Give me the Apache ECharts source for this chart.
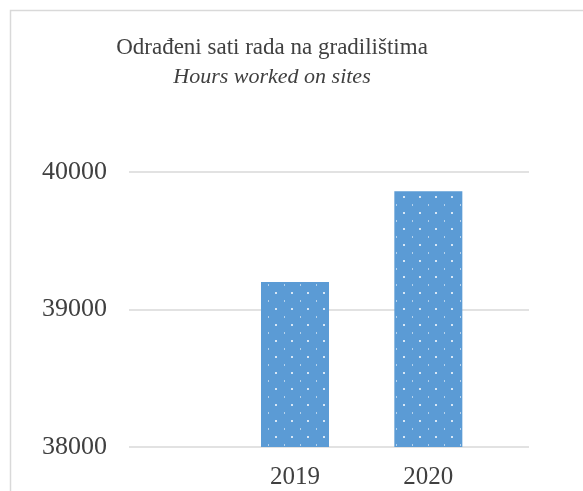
<!DOCTYPE html>
<html>
<head>
<meta charset="utf-8">
<script src="https://cdn.jsdelivr.net/npm/echarts@6/dist/echarts.min.js"></script>
<style>
html,body{margin:0;padding:0;background:#fff;}
#chart{width:583px;height:491px;}
</style>
</head>
<body>
<div id="chart"></div>
<script>
// Data
var categories = ['', '2019', '2020'];
var hoursWorked = [null, 39200, 39860];
var spacerSeries = [null, null, null];
var yTicks = [38000, 39000, 40000];
var titleMain = 'Odrađeni sati rada na gradilištima';
var titleSub = 'Hours worked on sites';

// dotted pattern fill
var pc = document.createElement('canvas');
pc.width = 16; pc.height = 16;
var ctx = pc.getContext('2d');
ctx.fillStyle = '#5B9BD5';
ctx.fillRect(0, 0, 16, 16);
ctx.fillStyle = 'rgba(255,255,255,0.75)';
ctx.fillRect(3, 4, 2, 2);
ctx.fillStyle = 'rgba(255,255,255,0.55)';
ctx.fillRect(12, 12, 1, 2);

var chart = echarts.init(document.getElementById('chart'), null, {renderer: 'canvas'});
var font = '"Liberation Serif", "DejaVu Serif", serif';
chart.setOption({
  animation: false,
  backgroundColor: '#ffffff',
  title: {
    text: titleMain,
    subtext: titleSub,
    left: 272,
    top: 36,
    textAlign: 'center',
    itemGap: 7,
    padding: 0,
    textStyle: {fontFamily: font, fontSize: 23, fontWeight: 'normal', color: '#404040'},
    subtextStyle: {fontFamily: font, fontSize: 22, fontStyle: 'italic', color: '#404040'}
  },
  graphic: [{
    type: 'rect',
    shape: {x: 10.5, y: 10.5, width: 600, height: 600},
    style: {fill: null, stroke: '#d9d9d9', lineWidth: 1.5},
    silent: true
  }],
  grid: {left: 129, right: 54, top: 172, height: 275, containLabel: false},
  xAxis: {
    type: 'category',
    data: categories,
    axisLine: {show: false},
    axisTick: {show: false},
    axisLabel: {
      interval: 0,
      margin: 18,
      padding: [0, 68, 0, 0],
      fontFamily: font,
      fontSize: 25,
      color: '#404040'
    }
  },
  yAxis: {
    type: 'value',
    min: yTicks[0],
    max: yTicks[yTicks.length - 1],
    interval: 1000,
    axisLine: {show: false},
    axisTick: {show: false},
    axisLabel: {margin: 22, fontFamily: font, fontSize: 26, color: '#404040',
      formatter: function (v) { return String(v); }},
    splitLine: {lineStyle: {color: '#d9d9d9', width: 1.5}}
  },
  series: [{
    type: 'bar',
    data: hoursWorked,
    barWidth: 68,
    barGap: '0%',
    itemStyle: {color: {image: pc, repeat: 'repeat'}}
  }, {
    type: 'bar',
    data: spacerSeries,
    barWidth: 68,
    barGap: '0%'
  }]
});
</script>
</body>
</html>
